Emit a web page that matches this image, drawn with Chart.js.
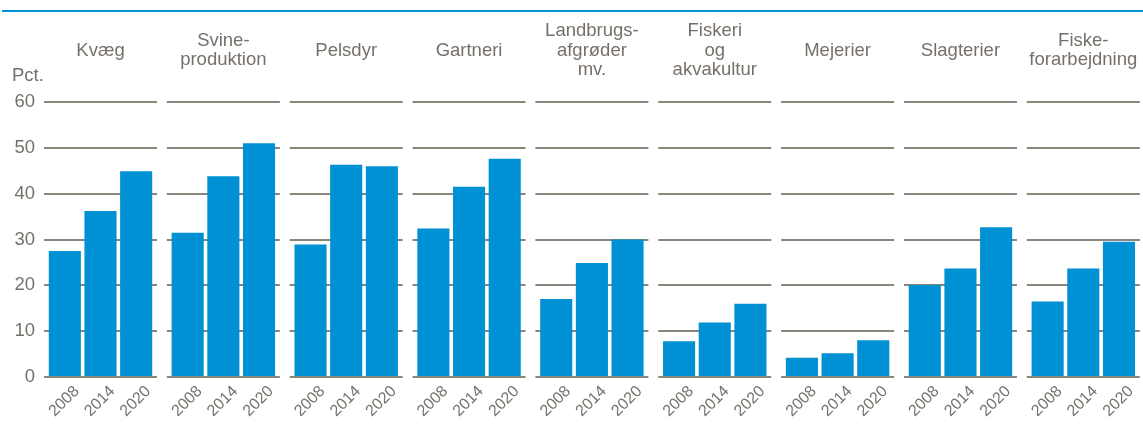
<!DOCTYPE html>
<html><head><meta charset="utf-8">
<script src="https://cdn.jsdelivr.net/npm/chart.js@4"></script>
<style>
html,body{margin:0;padding:0;background:#fff;}
#wrap{position:relative;width:1143px;height:428px;overflow:hidden;background:#fff;}
#wrap canvas{position:absolute;left:0;top:0;}
#rule{position:absolute;left:2px;top:10px;width:1141px;height:2px;background:#0091d5;}
</style></head><body>
<div id="wrap"><div id="rule"></div></div>
<script>
const categories = [["Kvæg"],["Svine-","produktion"],["Pelsdyr"],["Gartneri"],["Landbrugs-","afgrøder","mv."],["Fiskeri","og","akvakultur"],["Mejerier"],["Slagterier"],["Fiske-","forarbejdning"]];
const years = ["2008","2014","2020"];
const values2008 = [27.5,31.5,28.9,32.4,17.0,7.8,4.2,20.1,16.5];
const values2014 = [36.2,43.8,46.3,41.5,24.9,11.9,5.2,23.7,23.7];
const values2020 = [44.9,51.0,46.0,47.6,30.0,16.0,8.0,32.7,29.5];
const yTicks = [0,10,20,30,40,50,60];
const yAxisLabel = "Pct.";

const W = 1143, H = 428;
const FONT = '"Liberation Sans", Arial, sans-serif';
const TEXT = '#76706a';
const GRID = '#8a867b';
const BLUE = '#0090d4';
const panelStart = 44, panelStep = 122.85, panelWidth = 113, inset = 3;

const panelPlugin = {
  id: 'panel',
  beforeDatasetsDraw(chart) {
    const {ctx, chartArea} = chart;
    const y = chart.scales.y;
    ctx.save();
    ctx.strokeStyle = GRID; ctx.lineWidth = 2;
    yTicks.forEach(v => {
      if (v === 0) return;
      const py = Math.round(y.getPixelForValue(v));
      ctx.beginPath(); ctx.moveTo(chartArea.left - inset, py); ctx.lineTo(chartArea.right + inset, py); ctx.stroke();
    });
    ctx.restore();
  },
  afterDatasetsDraw(chart) {
    const {ctx, chartArea} = chart;
    const py = Math.round(chart.scales.y.getPixelForValue(0));
    ctx.save();
    ctx.strokeStyle = GRID; ctx.lineWidth = 2;
    ctx.beginPath(); ctx.moveTo(chartArea.left - inset, py); ctx.lineTo(chartArea.right + inset, py); ctx.stroke();
    ctx.restore();
  },
  afterDraw(chart, args, opts) {
    const {ctx, chartArea} = chart;
    const lines = opts.lines || [];
    const cx = (chartArea.left + chartArea.right) / 2;
    const n = lines.length, lh = 19.3, cy = 50.5;
    ctx.save();
    ctx.fillStyle = TEXT;
    ctx.font = '18.5px ' + FONT;
    ctx.textAlign = 'center'; ctx.textBaseline = 'middle';
    lines.forEach((t, k) => ctx.fillText(t, cx, cy + (k - (n - 1) / 2) * lh));
    if (opts.unit) {
      ctx.textAlign = 'left';
      ctx.fillText(opts.unit, 12, 75.5);
    }
    ctx.restore();
  }
};

const wrap = document.getElementById('wrap');
categories.forEach((cat, i) => {
  const gx = panelStart + panelStep * i;
  const left = gx + inset;
  const right = gx + panelWidth - inset;
  const canvas = document.createElement('canvas');
  canvas.width = W; canvas.height = H;
  canvas.style.width = W + 'px'; canvas.style.height = H + 'px';
  wrap.appendChild(canvas);
  const first = i === 0;
  new Chart(canvas, {
    type: 'bar',
    data: {
      labels: years,
      datasets: [{
        data: [values2008[i], values2014[i], values2020[i]],
        backgroundColor: BLUE,
        borderWidth: 0,
        barPercentage: 0.9,
        categoryPercentage: 1
      }]
    },
    options: {
      responsive: false,
      animation: false,
      devicePixelRatio: 1,
      layout: { padding: { top: 102, bottom: 0, left: first ? 0 : left, right: W - right } },
      plugins: {
        legend: { display: false },
        tooltip: { enabled: false },
        title: { display: false },
        panel: { lines: cat, unit: first ? yAxisLabel : null }
      },
      scales: {
        x: {
          type: 'category',
          grid: { display: false },
          border: { display: false },
          ticks: {
            color: TEXT, font: { size: 16, family: FONT },
            minRotation: 45, maxRotation: 45, autoSkip: false,
            labelOffset: 12, padding: -3
          },
          afterFit(s) { s.height = H - 377; }
        },
        y: {
          display: first,
          min: 0, max: 60,
          grid: { display: false, drawTicks: false },
          border: { display: false },
          ticks: {
            stepSize: 10, color: TEXT, font: { size: 18.5, family: FONT }, padding: 12
          },
          afterFit(s) { if (first) s.width = left; }
        }
      }
    },
    plugins: [panelPlugin]
  });
});
</script>
</body></html>
